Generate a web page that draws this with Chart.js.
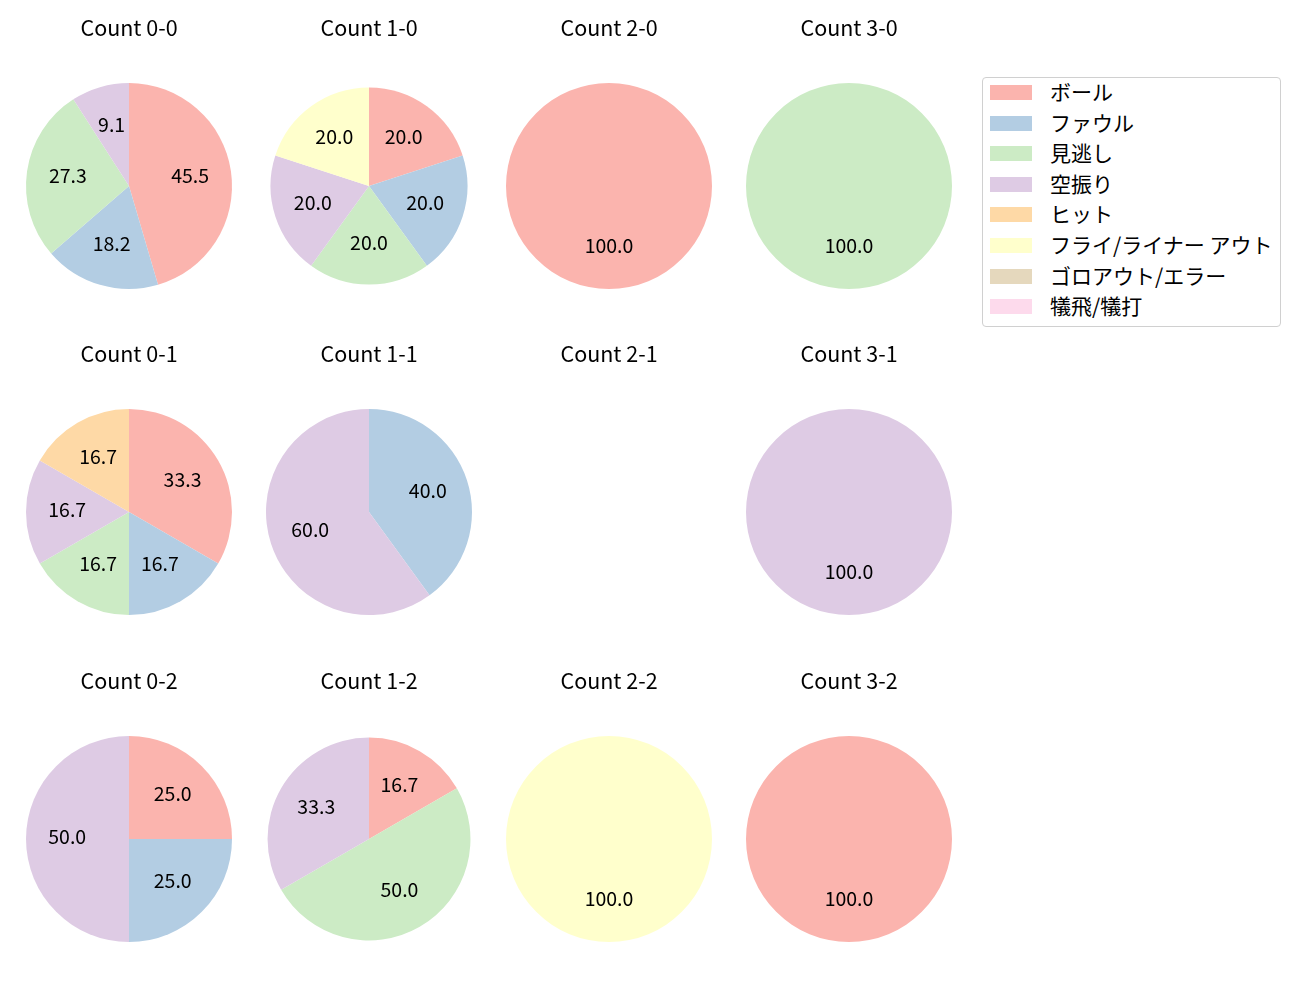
<!DOCTYPE html>
<html>
<head>
<meta charset="utf-8">
<script src="https://cdn.jsdelivr.net/npm/chart.js@4"></script>
<style>
  body { margin: 0; background: #fff; width: 1300px; height: 1000px; position: relative; overflow: hidden; font-family: "Noto Sans CJK JP", sans-serif; }
  .cell { position: absolute; width: 240px; height: 290px; }
  #legend { position: absolute; left: 982px; top: 77px; width: 297px; height: 248px; border: 1px solid #d0d0d0; border-radius: 4px; box-sizing: content-box; }
  .item { position: absolute; left: 7px; height: 24px; line-height: 24px; display: flex; align-items: center; font-size: 21px; color: #000; white-space: nowrap; }
  .swatch { width: 42px; height: 15px; margin-right: 18px; margin-top: 3px; }
</style>
</head>
<body>
<div id="legend"></div>
<script>
// categories (result types) and their colours
const categories = ['ボール', 'ファウル', '見逃し', '空振り', 'ヒット', 'フライ/ライナー アウト', 'ゴロアウト/エラー', '犠飛/犠打'];
const colors = ['#fbb4ae', '#b3cde3', '#ccebc5', '#decbe4', '#fed9a6', '#ffffcc', '#e5d8bd', '#fddaec'];

// counts per ball-strike count, in category order
const count00 = [5, 2, 3, 1, 0, 0, 0, 0];
const count10 = [1, 1, 1, 1, 0, 1, 0, 0];
const count20 = [1, 0, 0, 0, 0, 0, 0, 0];
const count30 = [0, 0, 1, 0, 0, 0, 0, 0];
const count01 = [2, 1, 1, 1, 1, 0, 0, 0];
const count11 = [0, 2, 0, 3, 0, 0, 0, 0];
const count21 = [];
const count31 = [0, 0, 0, 1, 0, 0, 0, 0];
const count02 = [1, 1, 0, 2, 0, 0, 0, 0];
const count12 = [1, 0, 3, 2, 0, 0, 0, 0];
const count22 = [0, 0, 0, 0, 0, 1, 0, 0];
const count32 = [1, 0, 0, 0, 0, 0, 0, 0];

const panels = [
  { title: 'Count 0-0', data: count00 }, { title: 'Count 1-0', data: count10 },
  { title: 'Count 2-0', data: count20 }, { title: 'Count 3-0', data: count30 },
  { title: 'Count 0-1', data: count01 }, { title: 'Count 1-1', data: count11 },
  { title: 'Count 2-1', data: count21 }, { title: 'Count 3-1', data: count31 },
  { title: 'Count 0-2', data: count02 }, { title: 'Count 1-2', data: count12 },
  { title: 'Count 2-2', data: count22 }, { title: 'Count 3-2', data: count32 }
];

// a couple of pies come out a bit smaller in the original
const pieScale = { 'Count 1-0': '95.6%', 'Count 1-2': '98.5%' };

const colX = [129, 369, 609, 849];
const rowY = [186, 512, 839];
const FONT = '"Noto Sans CJK JP", sans-serif';

// percentage labels at 0.6 of the radius
const pctLabels = {
  id: 'pctLabels',
  afterDatasetsDraw(chart) {
    const ds = chart.data.datasets[0];
    const total = ds.data.reduce((a, b) => a + b, 0);
    if (!total) return;
    const ctx = chart.ctx;
    ctx.save();
    ctx.font = '19.5px ' + FONT;
    ctx.fillStyle = '#000';
    ctx.textAlign = 'center';
    ctx.textBaseline = 'middle';
    chart.getDatasetMeta(0).data.forEach((arc, i) => {
      if (!ds.data[i]) return;
      const p = arc.getProps(['x', 'y', 'startAngle', 'endAngle', 'outerRadius'], true);
      const mid = (p.startAngle + p.endAngle) / 2;
      const r = p.outerRadius * 0.6;
      ctx.fillText((ds.data[i] / total * 100).toFixed(1), p.x + Math.cos(mid) * r, p.y + Math.sin(mid) * r - 2);
    });
    ctx.restore();
  }
};

panels.forEach((pn, k) => {
  const cx = colX[k % 4], cy = rowY[Math.floor(k / 4)];
  const div = document.createElement('div');
  div.className = 'cell';
  div.style.left = (cx - 120) + 'px';
  div.style.top = (cy - 180) + 'px';
  const cv = document.createElement('canvas');
  div.appendChild(cv);
  document.body.appendChild(div);
  new Chart(cv, {
    type: 'pie',
    data: {
      labels: categories,
      datasets: [{ data: pn.data, backgroundColor: colors, borderWidth: 0 }]
    },
    options: {
      responsive: true,
      maintainAspectRatio: false,
      animation: false,
      events: [],
      radius: pieScale[pn.title] || '100%',
      layout: { padding: { left: 17, right: 17, bottom: 7, top: 0 } },
      plugins: {
        legend: { display: false },
        tooltip: { enabled: false },
        title: {
          display: true,
          text: pn.title,
          color: '#000',
          font: { family: FONT, size: 21.5, weight: 'normal', lineHeight: 1.2 },
          padding: { top: 9, bottom: 42.2 }
        }
      }
    },
    plugins: [pctLabels]
  });
});

// legend
const lg = document.getElementById('legend');
categories.forEach((c, i) => {
  const it = document.createElement('div');
  it.className = 'item';
  it.style.top = (1 + i * 30.6) + 'px';
  it.innerHTML = '<span class="swatch" style="background:' + colors[i] + '"></span><span>' + c + '</span>';
  lg.appendChild(it);
});
</script>
</body>
</html>
